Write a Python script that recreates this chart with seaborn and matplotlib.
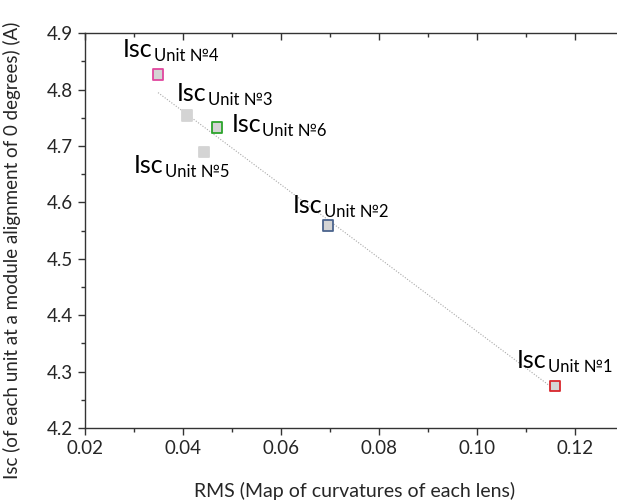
import numpy as np
import pandas as pd
import matplotlib
matplotlib.use("Agg")
import matplotlib.pyplot as plt
import seaborn as sns

# values
units = ["Unit №1", "Unit №2", "Unit №3", "Unit №4", "Unit №5", "Unit №6"]
rms = [0.1159, 0.0696, 0.0408, 0.0349, 0.0443, 0.0469]
isc = [4.275, 4.559, 4.754, 4.827, 4.690, 4.733]
edge_colors = ["#d9262c", "#4b648e", "#d4d4d4", "#e0479e", "#d4d4d4", "#2ca42c"]
# label offsets (pixels) of the "Isc" text from its marker
label_dx = [-38, -35, -10, -35, -70, 15]
label_dy = [18, 13, 15, 17, -21, -5]

df = pd.DataFrame({"unit": units, "rms": rms, "isc": isc})

sns.set_theme(style="ticks")
plt.rcParams["font.family"] = ["Lato", "DejaVu Sans"]

fig = plt.figure(figsize=(6.17, 5.03), dpi=100)
ax = fig.add_axes([0.1378, 0.149, 0.8736, 0.785])

# dotted linear trend
sns.regplot(data=df, x="rms", y="isc", scatter=False, ci=None, truncate=True,
            ax=ax, line_kws=dict(color="#a8a8a8", lw=0.8, ls=(0, (1, 1.5))))

sns.scatterplot(data=df, x="rms", y="isc", ax=ax, marker="s", s=55,
                color="#d4d4d4", edgecolor=edge_colors, linewidth=1.3, zorder=3)

for u, x, y, dx, dy in zip(units, rms, isc, label_dx, label_dy):
    t = ax.annotate("Isc", (x, y), xytext=(dx, dy), textcoords="offset pixels",
                    fontsize=18, va="baseline", ha="left", color="black")
    ax.annotate(u, xy=(1.0, 0.0), xycoords=t, xytext=(1, 0),
                textcoords="offset pixels", fontsize=12, va="baseline",
                ha="left", color="black")

ax.set_xlim(0.02, 0.13)
ax.set_ylim(4.2, 4.9)
ax.set_xticks(np.arange(0.02, 0.121, 0.02))
ax.set_xticks(np.arange(0.03, 0.131, 0.02), minor=True)
ax.set_yticks(np.arange(4.2, 4.91, 0.1))
ax.set_yticks(np.arange(4.25, 4.9, 0.1), minor=True)
ax.set_xticklabels([f"{v:.2f}" for v in np.arange(0.02, 0.121, 0.02)])
ax.set_yticklabels([f"{v:.1f}" for v in np.arange(4.2, 4.91, 0.1)])

for side in ["top", "right", "left", "bottom"]:
    ax.spines[side].set_visible(True)
    ax.spines[side].set_linewidth(1.0)
    ax.spines[side].set_color("#333333")

ax.tick_params(axis="both", which="major", labelsize=13.5, length=5, width=1,
               color="#333333", direction="out")
ax.tick_params(axis="both", which="minor", length=3, width=1, color="#333333",
               direction="out")
ax.tick_params(axis="x", which="both", top=True)
# top axis ticks point inward
for tk in ax.xaxis.get_major_ticks() + ax.xaxis.get_minor_ticks():
    tk.tick2line.set_marker(3)

ax.set_xlabel("RMS (Map of curvatures of each lens)", fontsize=14, labelpad=18)
ax.set_ylabel("Isc (of each unit at a module alignment of 0 degrees) (A)",
              fontsize=13.5)
ax.yaxis.set_label_coords(-0.118, 0.45)
ax.grid(False)

fig.savefig("out.png", dpi=100)
